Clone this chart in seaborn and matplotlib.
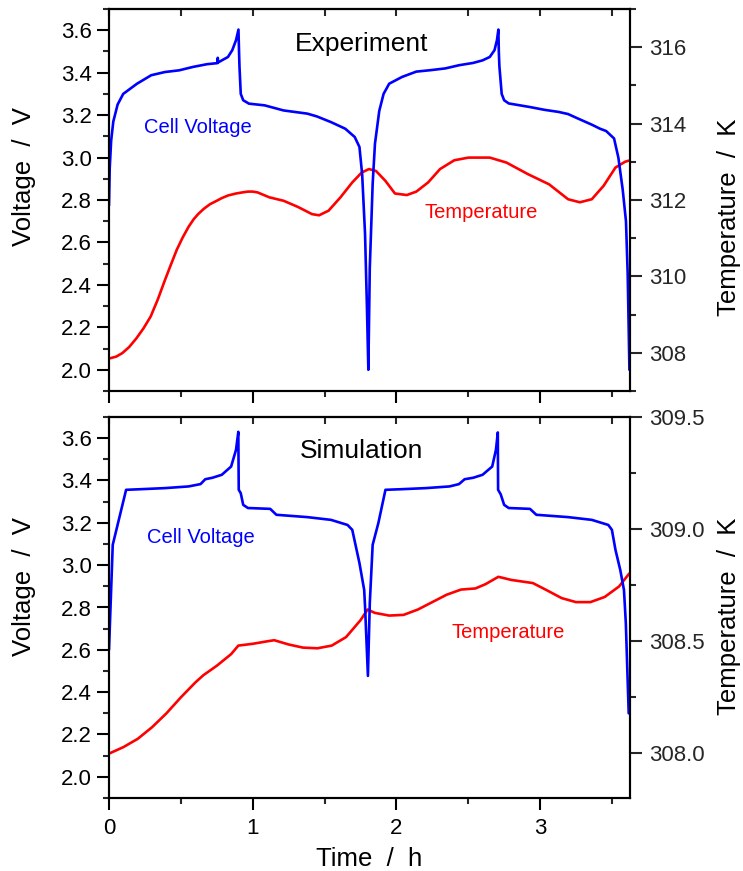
import matplotlib
matplotlib.use("Agg")
import matplotlib.pyplot as plt
import seaborn as sns
import pandas as pd
from matplotlib.ticker import MultipleLocator, FormatStrFormatter

# ---------------- data ----------------
# Experiment: cell voltage (V) vs time (h)
exp_v_time = [0.0, 0.005, 0.015, 0.03, 0.06, 0.099, 0.195, 0.294, 0.389, 0.488, 0.584, 0.683,
              0.755, 0.757, 0.759, 0.828, 0.858, 0.884, 0.901, 0.905, 0.908, 0.917, 0.934, 0.974,
              1.083, 1.215, 1.38, 1.446, 1.545, 1.644, 1.71, 1.743, 1.762, 1.782, 1.795, 1.805,
              1.815, 1.835, 1.851, 1.881, 1.911, 1.95, 2.04, 2.139, 2.241, 2.34, 2.436, 2.535,
              2.60, 2.65, 2.683, 2.70, 2.71, 2.713, 2.717, 2.733, 2.75, 2.782, 2.93, 3.03, 3.129,
              3.195, 3.26, 3.36, 3.417, 3.46, 3.515, 3.545, 3.575, 3.598, 3.61, 3.622]
exp_voltage = [2.774, 2.95, 3.08, 3.17, 3.25, 3.30, 3.348, 3.388, 3.403, 3.411, 3.427, 3.44,
               3.445, 3.47, 3.448, 3.474, 3.506, 3.553, 3.603, 3.50, 3.43, 3.30, 3.27, 3.254,
               3.246, 3.222, 3.207, 3.194, 3.167, 3.136, 3.097, 3.05, 2.92, 2.64, 2.30, 2.0,
               2.48, 2.876, 3.065, 3.22, 3.30, 3.348, 3.38, 3.405, 3.412, 3.42, 3.435, 3.446,
               3.458, 3.474, 3.506, 3.553, 3.603, 3.50, 3.43, 3.30, 3.27, 3.255, 3.238, 3.225, 3.215,
               3.205, 3.185, 3.155, 3.136, 3.125, 3.09, 3.0, 2.85, 2.70, 2.45, 2.0]

# Experiment: temperature (K) vs time (h)
exp_t_time = [0.0, 0.05, 0.092, 0.14, 0.191, 0.24, 0.29, 0.34, 0.389, 0.43, 0.472, 0.513, 0.554,
              0.59, 0.62, 0.66, 0.703, 0.75, 0.785, 0.83, 0.884, 0.93, 0.967, 1.0,
              1.033, 1.116, 1.215, 1.314, 1.413, 1.462, 1.528, 1.611, 1.693, 1.759, 1.809, 1.858,
              1.924, 1.990, 2.073, 2.139, 2.221, 2.304, 2.403, 2.502, 2.650, 2.766, 2.914, 3.063,
              3.195, 3.277, 3.360, 3.442, 3.525, 3.591, 3.617]
exp_temperature = [307.85, 307.90, 307.99, 308.15, 308.38, 308.64, 308.95, 309.40, 309.90, 310.30,
                   310.70, 311.02, 311.30, 311.50, 311.63, 311.77, 311.89, 311.98, 312.05, 312.12,
                   312.17, 312.20, 312.22, 312.22,
                   312.20, 312.07, 311.98, 311.82, 311.63, 311.60, 311.72, 312.07,
                   312.46, 312.72, 312.81, 312.76, 312.50, 312.17, 312.13, 312.22, 312.46, 312.81,
                   313.04, 313.11, 313.11, 312.98, 312.68, 312.41, 312.02, 311.94, 312.02, 312.37,
                   312.85, 313.00, 313.03]

# Simulation: cell voltage (V) vs time (h)
sim_v_time = [0.0, 0.026, 0.119, 0.224, 0.389, 0.554, 0.637, 0.67, 0.72, 0.785, 0.85, 0.884, 0.90,
              0.903, 0.917, 0.934, 0.967, 1.122, 1.165, 1.38, 1.545, 1.66, 1.693, 1.743, 1.776,
              1.782, 1.802, 1.815, 1.835, 1.875, 1.924, 2.04, 2.205, 2.37, 2.436, 2.475, 2.535,
              2.60, 2.667, 2.693, 2.706, 2.708, 2.726, 2.75, 2.782, 2.93, 2.974, 3.195, 3.36,
              3.475, 3.50, 3.525, 3.558, 3.584, 3.597, 3.617]
sim_voltage = [2.60, 3.096, 3.356, 3.359, 3.364, 3.372, 3.383, 3.406, 3.413, 3.427, 3.466, 3.545,
               3.63, 3.356, 3.34, 3.285, 3.27, 3.266, 3.238, 3.227, 3.214, 3.19, 3.167, 3.01, 2.883,
               2.805, 2.477, 2.82, 3.096, 3.20, 3.356, 3.359, 3.364, 3.372, 3.383, 3.406, 3.413,
               3.427, 3.466, 3.545, 3.627, 3.356, 3.335, 3.285, 3.27, 3.266, 3.238, 3.227, 3.214,
               3.19, 3.167, 3.072, 2.978, 2.883, 2.726, 2.30]

# Simulation: temperature (K) vs time (h)
sim_t_time = [0.0, 0.10, 0.20, 0.30, 0.40, 0.50, 0.60, 0.657, 0.75, 0.85, 0.90, 1.00, 1.10, 1.15,
              1.25, 1.35, 1.45, 1.55, 1.65, 1.75, 1.80, 1.85, 1.95, 2.05, 2.15, 2.25, 2.35, 2.45,
              2.55, 2.62, 2.71, 2.80, 2.95, 3.05, 3.15, 3.25, 3.35, 3.45, 3.55, 3.62]
sim_temperature = [307.998, 308.027, 308.064, 308.116, 308.178, 308.249, 308.315, 308.348, 308.390,
                   308.442, 308.480, 308.488, 308.499, 308.504, 308.485, 308.471, 308.468, 308.480,
                   308.518, 308.593, 308.641, 308.626, 308.614, 308.617, 308.641, 308.674, 308.707,
                   308.730, 308.735, 308.754, 308.787, 308.773, 308.759, 308.726, 308.692, 308.674,
                   308.674, 308.697, 308.744, 308.801]

BLUE = "#0000ff"
RED = "#ff0000"

# ---------------- style ----------------
sns.set_style("ticks")
plt.rcParams['font.family'] = ['Liberation Sans', 'DejaVu Sans']
plt.rcParams['axes.linewidth'] = 1.5

W, H = 743, 871
fig = plt.figure(figsize=(W / 100, H / 100), dpi=100)


def axes_px(l, t, r, b):
    return fig.add_axes([l / W, 1 - b / H, (r - l) / W, (b - t) / H])


def panel(ax, tv, v, tt, T, tlim, tmaj, tmin, tfmt, title, title_y, cv_xy, temp_xy, show_xlabels):
    axT = ax.twinx()
    dv = pd.DataFrame({"t": tv, "V": v})
    dt = pd.DataFrame({"t": tt, "T": T})
    sns.lineplot(data=dt, x="t", y="T", ax=axT, color=RED, lw=1.9, estimator=None, sort=False)
    sns.lineplot(data=dv, x="t", y="V", ax=ax, color=BLUE, lw=1.9, estimator=None, sort=False)
    ax.set_zorder(axT.get_zorder() + 1)
    ax.patch.set_visible(False)

    ax.set_xlim(0, 3.626)
    ax.set_ylim(1.9, 3.7)
    axT.set_ylim(*tlim)

    ax.xaxis.set_major_locator(MultipleLocator(1))
    ax.xaxis.set_minor_locator(MultipleLocator(0.5))
    ax.yaxis.set_major_locator(MultipleLocator(0.2))
    ax.yaxis.set_minor_locator(MultipleLocator(0.1))
    ax.yaxis.set_major_formatter(FormatStrFormatter('%.1f'))
    axT.yaxis.set_major_locator(MultipleLocator(tmaj))
    axT.yaxis.set_minor_locator(MultipleLocator(tmin))
    axT.yaxis.set_major_formatter(FormatStrFormatter(tfmt))

    ax.tick_params(axis='both', which='major', direction='out', length=8.5, width=1.5,
                   labelsize=16, colors='black')
    ax.tick_params(axis='both', which='minor', direction='out', length=4.5, width=1.5)
    ax.tick_params(axis='y', which='major', pad=4)
    ax.tick_params(axis='x', which='major', pad=6, labelbottom=show_xlabels)
    axT.tick_params(axis='y', which='major', direction='out', length=8.5, width=1.5,
                    labelsize=16, pad=5)
    axT.tick_params(axis='y', which='minor', direction='out', length=4.5, width=1.5)

    sec = ax.secondary_xaxis('top')
    sec.xaxis.set_major_locator(MultipleLocator(0.5))
    sec.tick_params(axis='x', which='major', direction='in', length=5, width=1.5, labeltop=False)
    sec.spines['top'].set_linewidth(1.5)

    for a in (ax, axT):
        a.set_xlabel("")
        a.set_ylabel("")
        for s in a.spines.values():
            s.set_linewidth(1.5)
            s.set_color('black')

    ax.text(1.76, title_y, title, fontsize=19, ha='center', va='baseline', color='black')
    ax.text(cv_xy[0], cv_xy[1], "Cell Voltage", fontsize=14.5, ha='center', va='baseline', color=BLUE)
    ax.text(temp_xy[0], temp_xy[1], "Temperature", fontsize=14.5, ha='center', va='baseline', color=RED)
    return axT


ax1 = axes_px(109, 9, 630, 391)
ax2 = axes_px(109, 417, 630, 798)

panel(ax1, exp_v_time, exp_voltage, exp_t_time, exp_temperature, (307, 317), 2, 1, '%d',
      "Experiment", 3.50, (0.62, 3.117), (2.59, 2.714), False)
panel(ax2, sim_v_time, sim_voltage, sim_t_time, sim_temperature, (307.8, 309.5), 0.5, 0.25, '%.1f',
      "Simulation", 3.507, (0.64, 3.106), (2.78, 2.658), True)

# axis labels
lab = dict(fontsize=18.5, ha='center', va='center', rotation=90, color='black')
fig.text(24 / W, 1 - 177 / H, "Voltage  /  V", **lab)
fig.text(24 / W, 1 - 587 / H, "Voltage  /  V", **lab)
fig.text(729 / W, 1 - 217 / H, "Temperature  /  K", **lab)
fig.text(729 / W, 1 - 616 / H, "Temperature  /  K", **lab)
fig.text(369 / W, 1 - 866 / H, "Time  /  h", fontsize=18.5, ha='center', va='baseline', color='black')

fig.savefig("out.png", dpi=100)
